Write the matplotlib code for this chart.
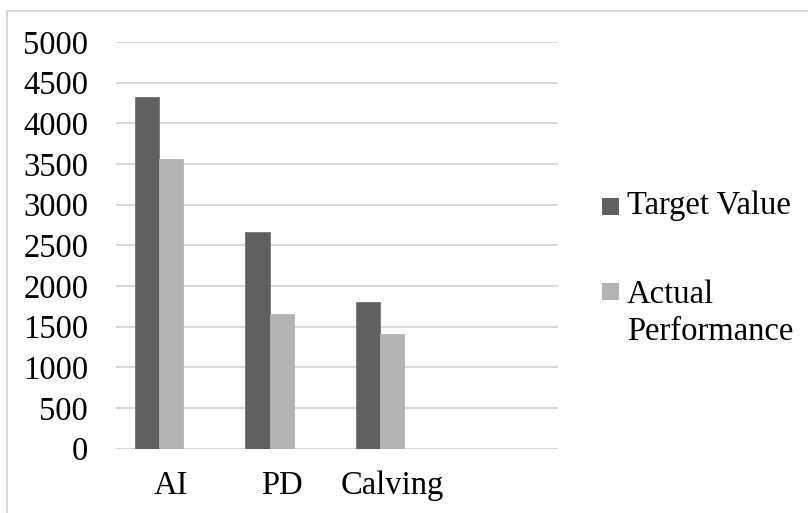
import matplotlib
matplotlib.use("Agg")
import matplotlib.pyplot as plt
from matplotlib.patches import Rectangle

categories = ["AI", "PD", "Calving"]
target_value = [4324, 2658, 1798]
actual_performance = [3559, 1651, 1405]
series_names = ["Target Value", "Actual\nPerformance"]
yticks = list(range(0, 5001, 500))

W, H = 808, 513
FS = 23.5
plt.rcParams['font.family'] = ['Liberation Serif', 'DejaVu Serif']
fig = plt.figure(figsize=(W / 100, H / 100), dpi=100)

ax = fig.add_axes([116 / W, 1 - 448.7 / H, (558 - 116) / W, (448.7 - 42) / H])
dark = '#606060'
light = '#b3b3b3'
w = 0.2217
xs = list(range(len(categories)))
ax.bar([x - w for x in xs], target_value, width=w, color=dark, edgecolor='#747474', linewidth=0.6, zorder=3)
ax.bar(xs, actual_performance, width=w, color=light, edgecolor=light, linewidth=0.6, zorder=3)

ax.set_xlim(-0.5, 3.5)
ax.set_ylim(0, 5000)
ax.set_yticks(yticks)
ax.set_yticklabels([str(v) for v in yticks], fontsize=FS)
ax.set_xticks(xs)
ax.set_xticklabels(categories, fontsize=FS)
ax.tick_params(axis='both', length=0)
ax.tick_params(axis='y', pad=20)
ax.tick_params(axis='x', pad=16)
ax.grid(axis='y', color='#d9d9d9', linewidth=1.5, zorder=0)
for s in ax.spines.values():
    s.set_visible(False)

# figure border (top & left visible)
fig.patches.append(Rectangle((7 / W, -0.05), 1.1, 1 - 11 / H + 0.05, transform=fig.transFigure,
                             fill=False, edgecolor='#d9d9d9', linewidth=1.5))

# legend
fig.patches.append(Rectangle((602 / W, 1 - 215 / H), 17 / W, 17 / H, transform=fig.transFigure,
                             facecolor=dark, edgecolor='none'))
fig.text(627 / W, 1 - 214 / H, "Target Value", fontsize=FS, va='baseline', ha='left')
fig.patches.append(Rectangle((602 / W, 1 - 300 / H), 17 / W, 17 / H, transform=fig.transFigure,
                             facecolor=light, edgecolor='none'))
fig.text(627 / W, 1 - 302.7 / H, "Actual", fontsize=FS, va='baseline', ha='left')
fig.text(627 / W, 1 - 340 / H, "Performance", fontsize=FS, va='baseline', ha='left')

fig.savefig("out.png", dpi=100)
